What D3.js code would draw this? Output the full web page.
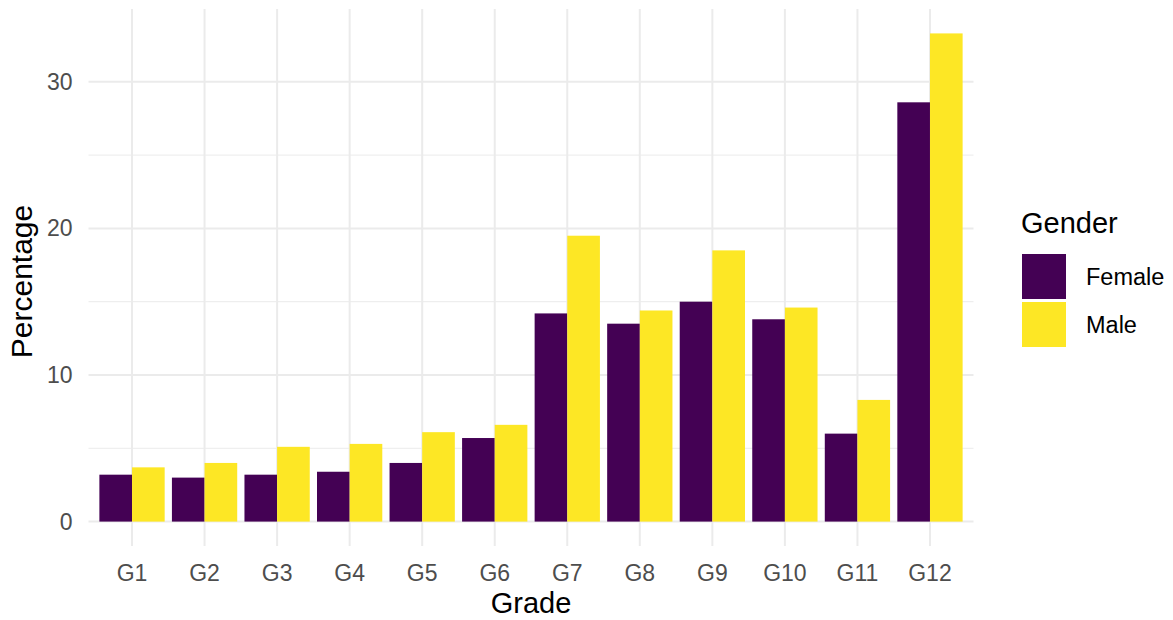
<!DOCTYPE html>
<html><head><meta charset="utf-8">
<script src="https://cdn.jsdelivr.net/npm/d3@7"></script>
<style>body{margin:0;background:#fff;font-family:"Liberation Sans",Arial,sans-serif}</style>
</head><body><svg id="c" width="1173" height="620"></svg>
<script>
const grades = ["G1","G2","G3","G4","G5","G6","G7","G8","G9","G10","G11","G12"];
const genders = ["Female","Male"];
const female = [3.2,3.0,3.2,3.4,4.0,5.7,14.2,13.5,15.0,13.8,6.0,28.6];
const male = [3.7,4.0,5.1,5.3,6.1,6.6,19.5,14.4,18.5,14.6,8.3,33.3];
const yTicks = [0,10,20,30];
const yMinor = [5,15,25];
const colors = ["#440154","#FDE725"];

(function(){
const svg = d3.select("#c");
const pL = 88.5, pR = 973.5, pT = 9, pB = 546;
const ymax = d3.max(male), pad = ymax*0.05;
const y = d3.scaleLinear().domain([-pad, ymax+pad]).range([pB, pT]);
const step = (pR-pL)/(grades.length - 1 + 1.2);
const x = d3.scalePoint().domain(grades).range([pL+0.6*step, pR-0.6*step]);
const bw = step*0.45;

const g = svg.append("g");
g.selectAll(".ymin").data(yMinor).enter().append("line")
  .attr("x1",pL).attr("x2",pR).attr("y1",d=>y(d)).attr("y2",d=>y(d))
  .attr("stroke","#EBEBEB").attr("stroke-width",1);
g.selectAll(".ymaj").data(yTicks).enter().append("line")
  .attr("x1",pL).attr("x2",pR).attr("y1",d=>y(d)).attr("y2",d=>y(d))
  .attr("stroke","#EBEBEB").attr("stroke-width",2);
g.selectAll(".xmaj").data(grades).enter().append("line")
  .attr("x1",d=>x(d)).attr("x2",d=>x(d)).attr("y1",pT).attr("y2",pB)
  .attr("stroke","#EBEBEB").attr("stroke-width",2);

const series = [female, male];
series.forEach((vals,si)=>{
  g.selectAll(".b"+si).data(vals).enter().append("rect")
    .attr("x",(d,i)=>x(grades[i]) - bw + si*bw)
    .attr("width",bw)
    .attr("y",d=>y(d))
    .attr("height",d=>y(0)-y(d))
    .attr("fill",colors[si]);
});

g.selectAll(".yt").data(yTicks).enter().append("text")
  .attr("x",72.5).attr("y",d=>y(d)).attr("dy","0.35em").attr("text-anchor","end")
  .attr("font-size",23).attr("fill","#4D4D4D").text(d=>d);
g.selectAll(".xt").data(grades).enter().append("text")
  .attr("x",d=>x(d)).attr("y",581).attr("text-anchor","middle")
  .attr("font-size",23).attr("fill","#4D4D4D").text(d=>d);

svg.append("text").attr("x",(pL+pR)/2).attr("y",613).attr("text-anchor","middle")
  .attr("font-size",29).attr("fill","#000").text("Grade");
svg.append("text").attr("transform",`translate(32,${(pT+pB)/2 + 4}) rotate(-90)`)
  .attr("text-anchor","middle").attr("font-size",30).attr("fill","#000").text("Percentage");

const lg = svg.append("g");
lg.append("text").attr("x",1021).attr("y",233).attr("font-size",29).attr("fill","#000").text("Gender");
genders.forEach((n,i)=>{
  lg.append("rect").attr("x",1022).attr("y",254+i*48).attr("width",44).attr("height",45).attr("fill",colors[i]);
  lg.append("text").attr("x",1086).attr("y",254+i*48+22.5).attr("dy","0.35em")
    .attr("font-size",23.5).attr("fill","#000").text(n);
});
})();
</script></body></html>
